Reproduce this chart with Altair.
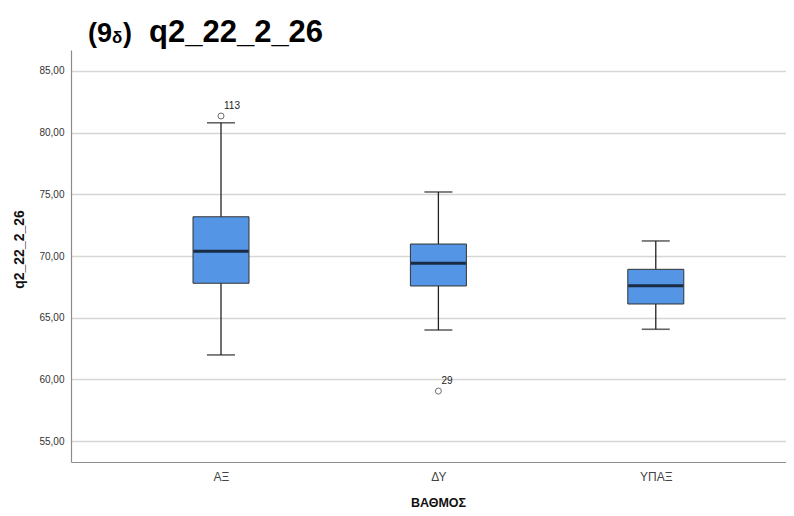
import altair as alt
import pandas as pd

# ---- data ----
categories = ["ΑΞ", "ΔΥ", "ΥΠΑΞ"]
lower_whisker = [61.98, 64.00, 64.06]
q1 = [67.79, 67.57, 66.11]
median = [70.38, 69.41, 67.59]
q3 = [73.18, 70.97, 68.92]
upper_whisker = [80.80, 75.19, 71.22]

outlier_category = ["ΑΞ", "ΔΥ"]
outlier_value = [81.35, 59.05]
outlier_label = ["113", "29"]

y_ticks = [55, 60, 65, 70, 75, 80, 85]

title_pieces = ["(9", "δ", ")", "q2_22_2_26"]
y_title = "q2_22_2_26"
x_title = "ΒΑΘΜΟΣ"

# ---- tables ----
box_df = pd.DataFrame({
    "idx": list(range(len(categories))),
    "cat": categories,
    "low": lower_whisker,
    "q1": q1,
    "median": median,
    "q3": q3,
    "high": upper_whisker,
})
out_df = pd.DataFrame({
    "idx": [categories.index(c) for c in outlier_category],
    "value": outlier_value,
    "label": outlier_label,
})

FONT = "Liberation Sans"
BOX_W = 56
CAP_W = 28

x_scale = alt.Scale(domain=[-0.667, 2.576], nice=False, zero=False)
y_scale = alt.Scale(domain=[53.3, 86.7], nice=False, zero=False)

label_expr = "[" + ",".join(f"'{c}'" for c in categories) + "][datum.value]"

x_axis = alt.Axis(
    values=list(range(len(categories))), labelExpr=label_expr, title=x_title,
    grid=False, ticks=False, domainColor="#8c8c8c", domainWidth=1.2,
    labelFont=FONT, labelFontSize=12, labelColor="#444444", labelPadding=9,
    titleFont=FONT, titleFontSize=12.5, titleFontWeight="bold", titleColor="#111111",
    titlePadding=14, titleX=367,
)
y_axis = alt.Axis(
    values=y_ticks, labelExpr="replace(format(datum.value, '.2f'), '.', ',')",
    title=y_title, grid=True, gridColor="#d6d6d6", gridWidth=1.3, ticks=False,
    domainColor="#8c8c8c", domainWidth=1.2,
    labelFont=FONT, labelFontSize=10, labelColor="#333333", labelPadding=7,
    titleFont=FONT, titleFontSize=14, titleFontWeight="bold", titleColor="#111111",
    titlePadding=12, titleY=199,
)

x_enc = alt.X("idx:Q", scale=x_scale, axis=x_axis)

base = alt.Chart(box_df).encode(x=x_enc)

whisk_lo = base.mark_rule(color="#222222", strokeWidth=1.3).encode(
    y=alt.Y("low:Q", scale=y_scale, axis=y_axis), y2="q1:Q")
whisk_hi = base.mark_rule(color="#222222", strokeWidth=1.3).encode(
    y=alt.Y("q3:Q", scale=y_scale), y2="high:Q")
box = base.mark_bar(size=BOX_W, color="#5595E5", stroke="#333333", strokeWidth=1).encode(
    y=alt.Y("q1:Q", scale=y_scale), y2="q3:Q")
med = base.mark_tick(size=BOX_W - 1, thickness=3, color="#000000", orient="horizontal").encode(
    y=alt.Y("median:Q", scale=y_scale))
cap_lo = base.mark_tick(size=CAP_W, thickness=1.6, color="#222222", orient="horizontal").encode(
    y=alt.Y("low:Q", scale=y_scale))
cap_hi = base.mark_tick(size=CAP_W, thickness=1.6, color="#222222", orient="horizontal").encode(
    y=alt.Y("high:Q", scale=y_scale))

out_base = alt.Chart(out_df).encode(x=x_enc, y=alt.Y("value:Q", scale=y_scale))
out_pts = out_base.mark_point(shape="circle", filled=False, size=36, color="#333333", strokeWidth=1)
out_txt = out_base.mark_text(align="left", baseline="alphabetic", dx=3, dy=-7,
                             font=FONT, fontSize=10, color="#222222").encode(text="label:N")

# ---- title pieces (with subscript delta) ----
def title_piece(txt, px, py, size):
    return alt.Chart(pd.DataFrame({"t": [txt]})).mark_text(
        align="left", baseline="alphabetic", font=FONT, fontSize=size,
        fontWeight="bold", color="#000000"
    ).encode(x=alt.value(px), y=alt.value(py), text="t:N")

t1 = title_piece(title_pieces[0], 17, -8, 27)
t2 = title_piece(title_pieces[1], 41, -7, 17)
t3 = title_piece(title_pieces[2], 52, -8, 27)
t4 = title_piece(title_pieces[3], 78, -8, 31)

chart = alt.layer(
    whisk_lo, whisk_hi, cap_lo, cap_hi, box, med, out_pts, out_txt, t1, t2, t3, t4
).properties(
    width=715, height=412,
    padding={"left": 63, "top": 42, "right": 0, "bottom": 46},
    autosize=alt.AutoSizeParams(type="none"),
    background="white",
).configure_view(stroke=None)

chart.save("out.html", embed_options={"renderer": "svg", "actions": False})
